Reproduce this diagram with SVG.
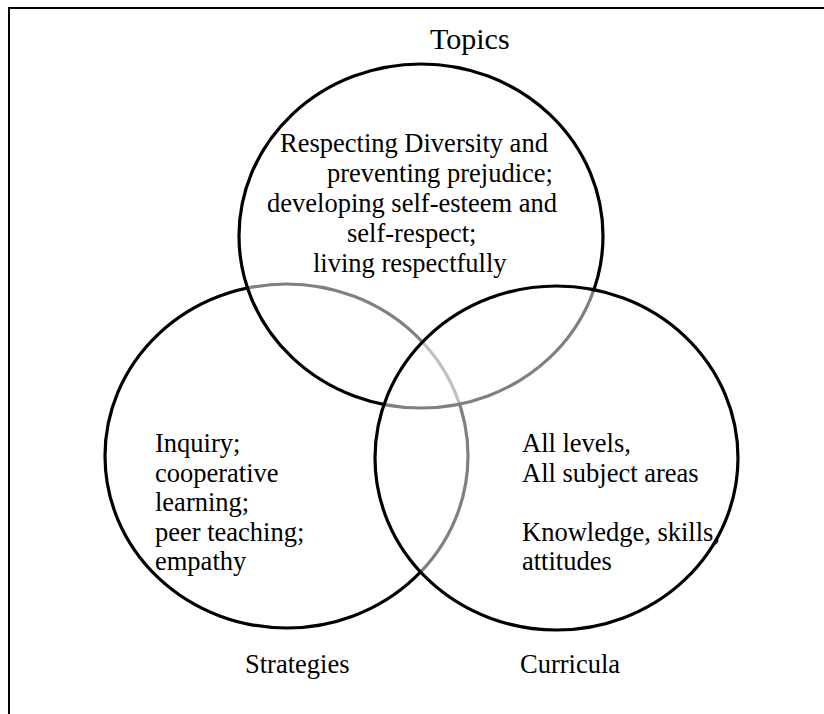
<svg xmlns="http://www.w3.org/2000/svg" width="824" height="714" viewBox="0 0 824 714">
<style>
.frame{fill:none;stroke:#000;stroke-width:2}
.ring{stroke:#000;stroke-width:3.2}
.first{fill:none}
.veil{fill:#fff;fill-opacity:0.5}
text{font-family:"Liberation Serif","Times New Roman",serif;font-size:26.5px;fill:#000}
.title{font-size:30px}
</style>
<rect width="824" height="714" fill="#fff"/>
<rect class="frame" x="9" y="8" width="900" height="800"/>
<g id="strategies">
<ellipse class="ring first" cx="286.5" cy="456" rx="181.5" ry="172"/>
<text x="155" y="452">Inquiry;</text>
<text x="155" y="482">cooperative</text>
<text x="155" y="511">learning;</text>
<text x="155" y="541">peer teaching;</text>
<text x="155" y="570">empathy</text>
<text x="245" y="673">Strategies</text>
</g>
<g id="topics">
<ellipse class="ring veil" cx="421" cy="236" rx="182" ry="172"/>
<text class="title" x="430" y="49">Topics</text>
<text x="280" y="152">Respecting Diversity and</text>
<text x="327" y="182">preventing prejudice;</text>
<text x="267" y="212">developing self-esteem and</text>
<text x="347" y="242">self-respect;</text>
<text x="313" y="272">living respectfully</text>
</g>
<g id="curricula">
<ellipse class="ring veil" cx="556.5" cy="458" rx="181.5" ry="172"/>
<text x="522" y="452">All levels,</text>
<text x="522" y="482">All subject areas</text>
<text x="522" y="541">Knowledge, skills,</text>
<text x="522" y="570">attitudes</text>
<text x="520" y="673">Curricula</text>
</g>
<g id="connectors"/>
</svg>
